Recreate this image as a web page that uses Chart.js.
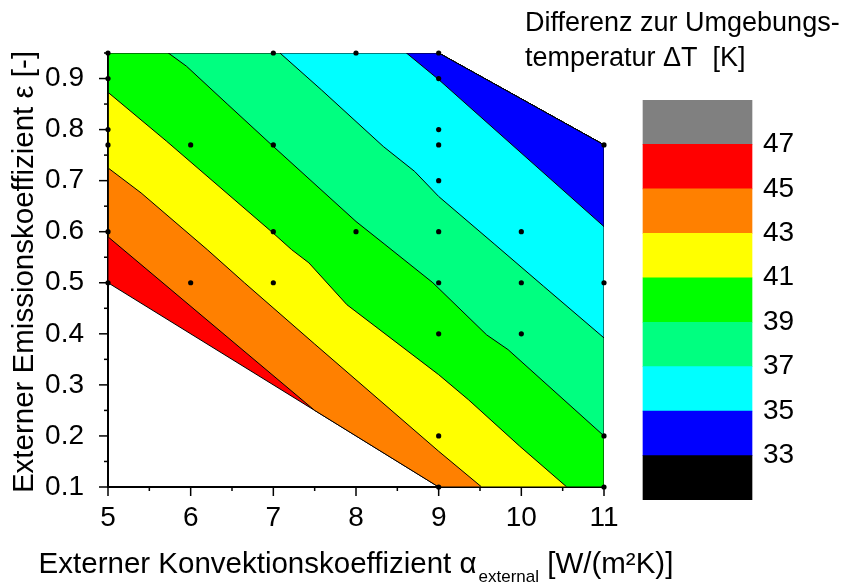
<!DOCTYPE html>
<html><head><meta charset="utf-8">
<script src="https://cdn.jsdelivr.net/npm/chart.js@4"></script>
<style>
html,body{margin:0;padding:0;background:#fff;}
#wrap{position:relative;width:850px;height:583px;overflow:hidden;}
canvas{position:absolute;top:0;}
</style>
</head><body>
<div id="wrap">
<canvas id="main" width="850" height="583" style="left:0;width:850px;height:583px"></canvas>
<canvas id="cb" width="325" height="583" style="left:525px;width:325px;height:583px"></canvas>
</div>
<script>
// ---- data ----
const xTicks = [5, 6, 7, 8, 9, 10, 11];
const xTickLabels = ['5', '6', '7', '8', '9', '10', '11'];
const yTicks = [0.1, 0.2, 0.3, 0.4, 0.5, 0.6, 0.7, 0.8, 0.9];
const yTickLabels = ['0.1', '0.2', '0.3', '0.4', '0.5', '0.6', '0.7', '0.8', '0.9'];

// domain of the interpolated data (convex hull of measurement points)
const domain = [[5, 0.5], [5, 0.95], [9, 0.95], [11, 0.77], [11, 0.1], [9, 0.1]];

// contour lines (x = alpha, y = epsilon)
const contour45 = [[5, 0.59], [7.5, 0.25]];
const contour43 = [[5, 0.725], [5.4, 0.676], [6.2, 0.565], [6.65, 0.5], [7.5, 0.38], [9, 0.17], [9.52, 0.1]];
const contour41 = [[5, 0.873], [5.71, 0.777], [7.0, 0.597], [7.22, 0.565], [7.43, 0.539], [7.89, 0.457], [9.0, 0.32], [9.36, 0.271], [9.98, 0.18], [10.55, 0.1]];
const contour39 = [[5.73, 0.95], [5.95, 0.924], [6.45, 0.849], [7.0, 0.767], [8.0, 0.62], [8.35, 0.575], [8.93, 0.5], [9.58, 0.398], [9.84, 0.369], [11, 0.2]];
const contour37 = [[7.08, 0.95], [7.58, 0.878], [8.33, 0.767], [8.71, 0.718], [9.0, 0.669], [9.68, 0.575], [10.27, 0.493], [11, 0.392]];
const contour35 = [[8.61, 0.95], [9.0, 0.898], [11, 0.61]];
const contourLevels = [45, 43, 41, 39, 37, 35];
const contourLines = [contour45, contour43, contour41, contour39, contour37, contour35];

// measurement points
const samplePoints = [
  [5, 0.95], [5, 0.9], [5, 0.8], [5, 0.77], [5, 0.6], [5, 0.5],
  [6, 0.77], [6, 0.5],
  [7, 0.95], [7, 0.77], [7, 0.6], [7, 0.5],
  [8, 0.95], [8, 0.6],
  [9, 0.95], [9, 0.9], [9, 0.8], [9, 0.77], [9, 0.7], [9, 0.6], [9, 0.5], [9, 0.4], [9, 0.2], [9, 0.1],
  [10, 0.6], [10, 0.5], [10, 0.4],
  [11, 0.77], [11, 0.5], [11, 0.2], [11, 0.1]
];

// colour scale
const bandLevels = [31, 33, 35, 37, 39, 41, 43, 45, 47, 49];
const bandColors = ['#000000', '#0000ff', '#00ffff', '#00ff80', '#00ff00', '#ffff00', '#ff8000', '#ff0000', '#808080'];
const cbTicks = [33, 35, 37, 39, 41, 43, 45, 47];
const domainLevel = 45; // band present over whole domain (45-47)

const FONT = "'Liberation Sans', Arial, Helvetica, sans-serif";

// ---- build polygons ----
const toXY = a => a.map(p => ({x: p[0], y: p[1]}));
function colorOfBand(lo) { return bandColors[bandLevels.indexOf(lo)]; }
function regionBelow(line) {
  const s = line[0], e = line[line.length - 1];
  const dx = e[0] - s[0], dy = e[1] - s[1];
  const ring = domain.slice().reverse();
  const corners = ring.filter(p => dx * (p[1] - s[1]) - dy * (p[0] - s[0]) > 1e-9);
  const poly = line.concat(corners);
  poly.push(line[0]);
  return poly;
}

const datasets = [];
const domainClosed = domain.concat([domain[0]]);
datasets.push({
  data: toXY(domainClosed), backgroundColor: colorOfBand(domainLevel), borderColor: '#000', borderWidth: 1,
  fill: 'shape', pointRadius: 0, tension: 0, order: 20
});
contourLevels.forEach((lev, i) => {
  datasets.push({
    data: toXY(regionBelow(contourLines[i])), backgroundColor: colorOfBand(lev - 2), borderColor: '#000', borderWidth: 1,
    fill: 'shape', pointRadius: 0, tension: 0, order: 19 - i
  });
});
datasets.push({
  data: toXY(samplePoints), showLine: false, pointRadius: 2.6, pointBackgroundColor: '#000', pointBorderWidth: 0,
  borderColor: '#000', fill: false, order: 0, clip: false
});

// ---- plugins ----
const axisTicks = {
  id: 'axisTicks',
  afterDraw(chart) {
    const {ctx, scales: {x, y}, chartArea: a} = chart;
    ctx.save();
    ctx.strokeStyle = '#000';
    ctx.lineWidth = 1.5;
    const xs = [];
    xTicks.forEach((v, i) => { xs.push([v, 9]); if (i < xTicks.length - 1) xs.push([(v + xTicks[i + 1]) / 2, 4]); });
    xs.forEach(([v, len]) => {
      const px = x.getPixelForValue(v);
      ctx.beginPath(); ctx.moveTo(px, a.bottom); ctx.lineTo(px, a.bottom + len); ctx.stroke();
    });
    const ys = [];
    yTicks.forEach((v) => { ys.push([v, 9]); ys.push([v + 0.05, 4]); });
    ys.forEach(([v, len]) => {
      const py = y.getPixelForValue(v);
      ctx.beginPath(); ctx.moveTo(a.left, py); ctx.lineTo(a.left - len, py); ctx.stroke();
    });
    ctx.restore();
  }
};

const axisTitles = {
  id: 'axisTitles',
  afterDraw(chart) {
    const {ctx, chartArea: a} = chart;
    ctx.save();
    ctx.fillStyle = '#000';
    const f1 = '29.5px ' + FONT, f2 = '17px ' + FONT;
    const p1 = 'Externer Konvektionskoeffizient \u03b1', p2 = 'external', p3 = ' [W/(m\u00b2K)]';
    ctx.font = f1; const w1 = ctx.measureText(p1).width + 2; const w3 = ctx.measureText(p3).width;
    ctx.font = f2; const w2 = ctx.measureText(p2).width;
    let x0 = (a.left + a.right) / 2 - (w1 + w2 + w3) / 2;
    ctx.textBaseline = 'alphabetic'; ctx.textAlign = 'left';
    ctx.font = f1; ctx.fillText(p1, x0, 573);
    ctx.font = f2; ctx.fillText(p2, x0 + w1, 582);
    ctx.font = f1; ctx.fillText(p3, x0 + w1 + w2, 573);
    // y title
    ctx.translate(33, (a.top + a.bottom) / 2 + 2);
    ctx.rotate(-Math.PI / 2);
    ctx.textAlign = 'center';
    ctx.font = '29.5px ' + FONT;
    ctx.fillText('Externer Emissionskoeffizient \u03b5 [-]', 0, 0);
    ctx.restore();
  }
};

// ---- main chart ----
new Chart(document.getElementById('main'), {
  type: 'line',
  data: {datasets},
  options: {
    responsive: false, animation: false, devicePixelRatio: 1,
    layout: {padding: {top: 53, right: 246, left: 0, bottom: 0}},
    plugins: {legend: {display: false}, tooltip: {enabled: false}, title: {display: false}},
    elements: {line: {tension: 0}},
    scales: {
      x: {
        type: 'linear', min: 5, max: 11, z: 1,
        afterBuildTicks: s => { s.ticks = xTicks.map(v => ({value: v})); },
        afterFit: s => { s.height = 96; },
        ticks: {callback: (v) => xTickLabels[xTicks.indexOf(v)], font: {size: 28, family: FONT}, color: '#000', padding: 6, maxRotation: 0, autoSkip: false},
        grid: {display: false},
        border: {display: true, color: '#000', width: 2}
      },
      y: {
        type: 'linear', min: 0.1, max: 0.95, z: 1,
        afterBuildTicks: s => { s.ticks = yTicks.map(v => ({value: v})); },
        afterFit: s => { s.width = 108; },
        ticks: {callback: (v) => yTickLabels[yTicks.findIndex(t => Math.abs(t - v) < 1e-9)], font: {size: 28, family: FONT}, color: '#000', padding: 16, autoSkip: false},
        grid: {display: false},
        border: {display: true, color: '#000', width: 2}
      }
    }
  },
  plugins: [axisTicks, axisTitles]
});

// ---- colour bar ----
const cbDatasets = bandColors.map((c, i) => ({
  data: [null, [bandLevels[i], bandLevels[i + 1]]],
  backgroundColor: c, borderWidth: 0, grouped: false, barThickness: 109
}));
new Chart(document.getElementById('cb'), {
  type: 'bar',
  data: {labels: ['', 'dT'], datasets: cbDatasets},
  options: {
    responsive: false, animation: false, devicePixelRatio: 1,
    layout: {padding: {top: 0, right: 0, left: 0, bottom: 83}},
    plugins: {
      legend: {display: false}, tooltip: {enabled: false},
      title: {
        display: true, align: 'start', color: '#000',
        text: ['Differenz zur Umgebungs-', 'temperatur \u0394T  [K]'],
        font: {size: 27, family: FONT, weight: 'normal', lineHeight: 35 / 27},
        padding: {top: 6, bottom: 24}
      }
    },
    scales: {
      x: {display: false},
      y: {
        position: 'right', min: 31, max: 49,
        afterBuildTicks: s => { s.ticks = cbTicks.map(v => ({value: v})); },
        afterFit: s => { s.width = 95; },
        ticks: {font: {size: 28, family: FONT}, color: '#000', padding: 0, autoSkip: false},
        grid: {display: false},
        border: {display: false}
      }
    }
  }
});
</script>
</body></html>
